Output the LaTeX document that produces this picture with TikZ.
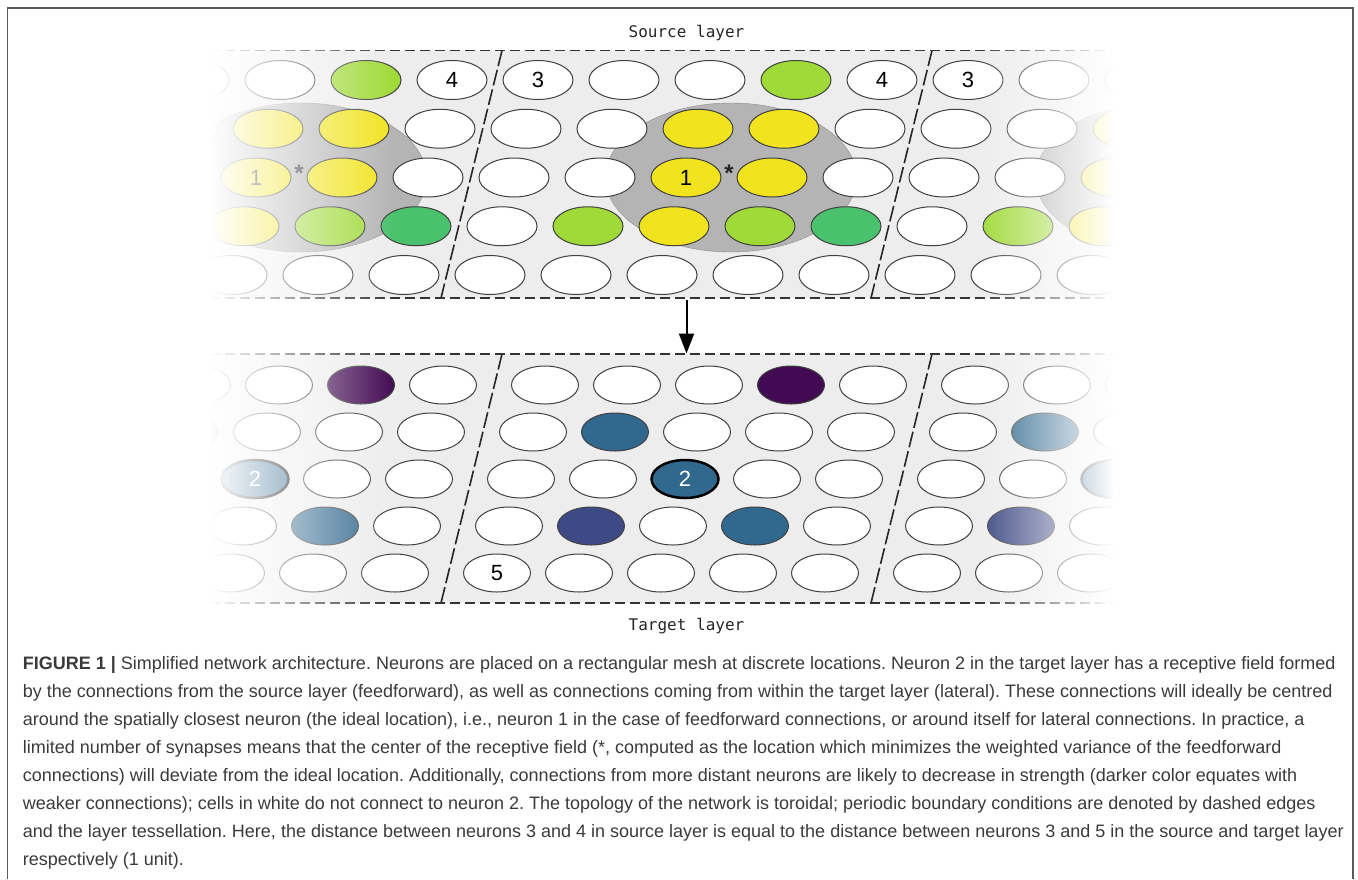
\documentclass[tikz,border=0pt]{standalone}
\usepackage{fontspec}
\setmainfont{Liberation Sans}
\setmonofont{DejaVu Sans Mono}
\newfontfamily\capfont{Liberation Sans}
\usetikzlibrary{shapes.geometric,arrows.meta,fadings}

\definecolor{bandgray}{HTML}{EDEDED}
\definecolor{fieldgray}{HTML}{B4B4B4}
\definecolor{nyellow}{HTML}{F1E41E}
\definecolor{ngreen}{HTML}{A0DA39}
\definecolor{ndkgreen}{HTML}{4AC16D}
\definecolor{nblue}{HTML}{31688E}
\definecolor{nnavy}{HTML}{3E4A85}
\definecolor{npurple}{HTML}{420A52}
\definecolor{captext}{HTML}{3A3A3A}

\tikzfading[name=fade west edge, left color=transparent!0, right color=transparent!100]
\tikzfading[name=fade east edge, left color=transparent!100, right color=transparent!0]

\tikzset{
  neuron/.style={draw=black!75, fill=white, shape=ellipse, line width=1pt, inner sep=0pt,
    minimum width=70pt, minimum height=39pt},
  tneuron/.style={neuron, minimum width=67pt, minimum height=38pt},
  numlabel/.style={font=\fontsize{22}{22}\selectfont, inner sep=0pt},
  layername/.style={font=\ttfamily\fontsize{16}{16}\selectfont, text=black!85, inner sep=0pt, anchor=base},
  border/.style={dash pattern=on 10pt off 5pt, line width=1.6pt, draw=black!80},
  tileedge/.style={dash pattern=on 16pt off 4pt, line width=1.6pt, draw=black!85},
  s03/.style={fill=ngreen},
  s12/.style={fill=nyellow}, s13/.style={fill=nyellow},
  s22/.style={fill=nyellow}, s23/.style={fill=nyellow},
  s31/.style={fill=ngreen}, s32/.style={fill=nyellow}, s33/.style={fill=ngreen}, s34/.style={fill=ndkgreen},
  t03/.style={fill=npurple}, t11/.style={fill=nblue}, t22/.style={fill=nblue, draw=black, line width=2.5pt},
  t31/.style={fill=nnavy}, t33/.style={fill=nblue}
}

\begin{document}
\begin{tikzpicture}[x=1pt,y=-1pt]
  \useasboundingbox (0,0) rectangle (1358,879);
  \draw[line width=1.5pt, black!65] (7.5,879) -- (7.5,8) -- (1353,8) -- (1353,879);

  % source layer
  \begin{scope}
    \clip (210,40) rectangle (1113,306);
    \fill[bandgray] (210,50.5) rectangle (1113,298);
    \foreach \tl in {-1,0,1}
      \filldraw[fill=fieldgray, draw=black!45] ({731+430*\tl},177.5) ellipse [x radius=125.5, y radius=74.5];
    \foreach \tl/\tn in {-1/L,0/M,1/R}{
      \foreach \row in {0,...,4}{
        \foreach \col in {0,...,4}{
          \node[neuron, s\row\col/.try] (src\tn-\row-\col) at ({538+86*\col+430*\tl-12*\row},{80+48.75*\row}) {};
        }
      }
    }
    \node[numlabel] (three-M) at (srcM-0-0) {3};
    \node[numlabel] (three-R) at (srcR-0-0) {3};
    \node[numlabel] (four-L) at (srcL-0-4) {4};
    \node[numlabel] (four-M) at (srcM-0-4) {4};
    \foreach \tn in {L,M,R}
      \node[numlabel] (one-\tn) at (src\tn-2-2) {1};
    \node[numlabel, font=\fontsize{24}{24}\bfseries\selectfont, anchor=base, text=black!85] (star-M) at (729,181) {*};
    \node[numlabel, font=\fontsize{24}{24}\bfseries\selectfont, anchor=base, text=black!85] (star-L) at (299,181) {*};
    \draw[tileedge] (502,50.5) -- (441,298);
    \draw[tileedge] (932,50.5) -- (871,298);
    \draw[border] (210,50.5) -- (1113,50.5);
    \draw[border] (210,298) -- (1113,298);
  \end{scope}
  \fill[white, path fading=fade west edge] (209,40) rectangle (395,306);
  \fill[white, path fading=fade east edge] (975,40) rectangle (1114,306);

  % target layer
  \begin{scope}
    \clip (210,346) rectangle (1113,611);
    \fill[bandgray] (210,354) rectangle (1113,603);
    \foreach \tl/\tn in {-1/L,0/M,1/R}{
      \foreach \row in {0,...,4}{
        \foreach \col in {0,...,4}{
          \node[tneuron, t\row\col/.try] (tgt\tn-\row-\col) at ({545+82*\col+430*\tl-12*\row},{385+47*\row}) {};
        }
      }
    }
    \foreach \tn in {L,M,R}
      \node[numlabel, text=white] (two-\tn) at (tgt\tn-2-2) {2};
    \node[numlabel] (five-M) at (tgtM-4-0) {5};
    \draw[tileedge] (502,354) -- (441,603);
    \draw[tileedge] (932,354) -- (871,603);
    \draw[border] (210,354) -- (1113,354);
    \draw[border] (210,603) -- (1113,603);
  \end{scope}
  \fill[white, path fading=fade west edge] (209,346) rectangle (395,611);
  \fill[white, path fading=fade east edge] (975,346) rectangle (1114,611);

  \coordinate (srcbase) at (686.5,299.5);
  \coordinate (tgttop) at (686.5,353.5);
  \draw[-{Triangle[length=20pt,width=15pt]}, line width=2pt] (srcbase) -- (tgttop);

  \node[layername] (srclabel) at (686.5,37.7) {Source layer};
  \node[layername] (tgtlabel) at (686.5,630) {Target layer};

  \node[anchor=north west, align=left, inner sep=0pt, text=captext,
    font=\capfont\fontsize{18}{28}\selectfont\frenchspacing] (caption) at (22.7,656.5)
  {\textbf{FIGURE 1 |} Simplified network architecture. Neurons are placed on a rectangular mesh at discrete locations. Neuron 2 in the target layer has a receptive field formed\\
   by the connections from the source layer (feedforward), as well as connections coming from within the target layer (lateral). These connections will ideally be centred\\
   around the spatially closest neuron (the ideal location), i.e., neuron 1 in the case of feedforward connections, or around itself for lateral connections. In practice, a\\
   limited number of synapses means that the center of the receptive field (*, computed as the location which minimizes the weighted variance of the feedforward\\
   connections) will deviate from the ideal location. Additionally, connections from more distant neurons are likely to decrease in strength (darker color equates with\\
   weaker connections); cells in white do not connect to neuron 2. The topology of the network is toroidal; periodic boundary conditions are denoted by dashed edges\\
   and the layer tessellation. Here, the distance between neurons 3 and 4 in source layer is equal to the distance between neurons 3 and 5 in the source and target layer\\
   respectively (1 unit).};
\end{tikzpicture}
\end{document}
